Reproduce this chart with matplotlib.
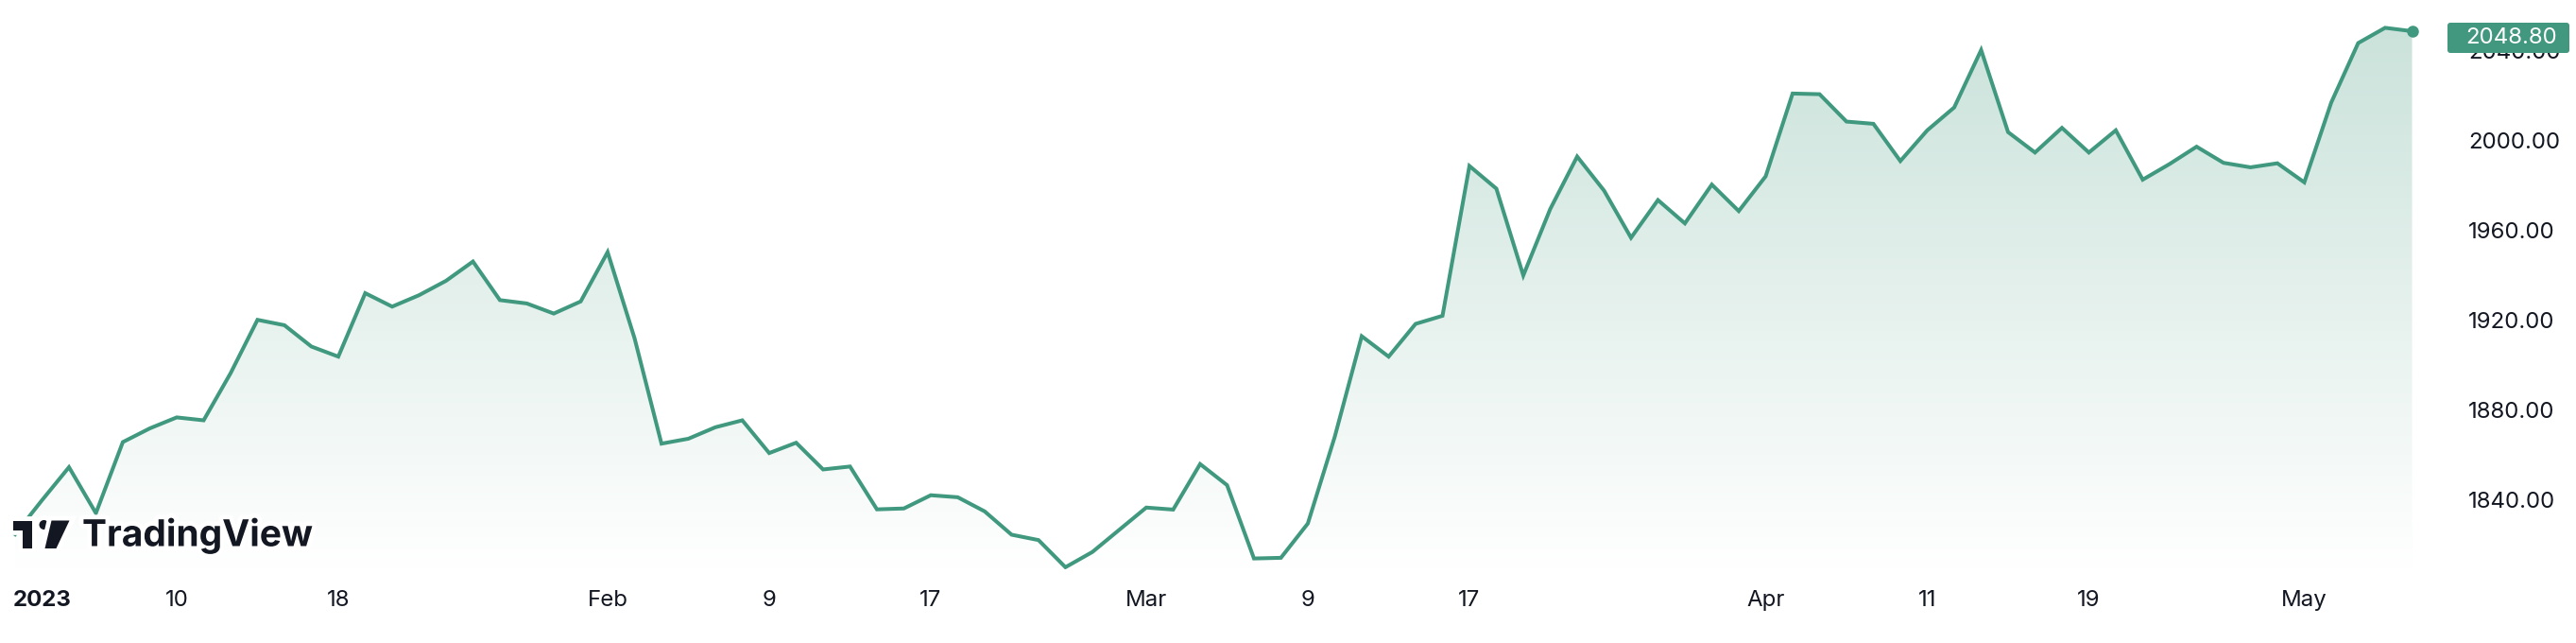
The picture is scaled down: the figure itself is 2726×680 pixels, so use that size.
import matplotlib
matplotlib.use('Agg')
import matplotlib.pyplot as plt
import matplotlib.patheffects as pe
from matplotlib.patches import Polygon, Circle, FancyBboxPatch
import numpy as np

# daily closes, gold spot, Dec 30 2022 .. May 5 2023
dates = ['2022-12-30',
         '2023-01-03', '2023-01-04', '2023-01-05', '2023-01-06', '2023-01-09',
         '2023-01-10', '2023-01-11', '2023-01-12', '2023-01-13', '2023-01-16',
         '2023-01-17', '2023-01-18', '2023-01-19', '2023-01-20', '2023-01-23',
         '2023-01-24', '2023-01-25', '2023-01-26', '2023-01-27', '2023-01-30',
         '2023-01-31', '2023-02-01', '2023-02-02', '2023-02-03', '2023-02-06',
         '2023-02-07', '2023-02-08', '2023-02-09', '2023-02-10', '2023-02-13',
         '2023-02-14', '2023-02-15', '2023-02-16', '2023-02-17', '2023-02-20',
         '2023-02-21', '2023-02-22', '2023-02-23', '2023-02-24', '2023-02-27',
         '2023-02-28', '2023-03-01', '2023-03-02', '2023-03-03', '2023-03-06',
         '2023-03-07', '2023-03-08', '2023-03-09', '2023-03-10', '2023-03-13',
         '2023-03-14', '2023-03-15', '2023-03-16', '2023-03-17', '2023-03-20',
         '2023-03-21', '2023-03-22', '2023-03-23', '2023-03-24', '2023-03-27',
         '2023-03-28', '2023-03-29', '2023-03-30', '2023-03-31', '2023-04-03',
         '2023-04-04', '2023-04-05', '2023-04-06', '2023-04-07', '2023-04-10',
         '2023-04-11', '2023-04-12', '2023-04-13', '2023-04-14', '2023-04-17',
         '2023-04-18', '2023-04-19', '2023-04-20', '2023-04-21', '2023-04-24',
         '2023-04-25', '2023-04-26', '2023-04-27', '2023-04-28', '2023-05-01',
         '2023-05-02', '2023-05-03', '2023-05-04', '2023-05-05']
closes = [1824.5,
          1839.7, 1854.4, 1833.9, 1865.6, 1871.7,
          1876.6, 1875.3, 1896.3, 1920.1, 1917.7,
          1908.2, 1903.7, 1932.0, 1926.0, 1931.1,
          1937.5, 1946.1, 1928.9, 1927.4, 1922.9,
          1928.3, 1950.3, 1911.9, 1864.9, 1867.1,
          1872.2, 1875.3, 1860.7, 1865.3, 1853.4,
          1854.7, 1835.6, 1836.0, 1841.9, 1841.0,
          1834.7, 1824.3, 1821.9, 1809.8, 1816.6,
          1826.5, 1836.4, 1835.5, 1855.8, 1846.4,
          1813.7, 1814.0, 1829.3, 1868.0, 1912.8,
          1903.7, 1918.3, 1921.9, 1988.7, 1978.6,
          1939.9, 1969.5, 1992.9, 1977.7, 1956.7,
          1973.5, 1963.1, 1980.4, 1968.6, 1984.1,
          2021.0, 2020.7, 2008.5, 2007.5, 1990.9,
          2004.6, 2014.8, 2040.4, 2003.8, 1994.7,
          2005.7, 1994.7, 2004.6, 1982.6, 1989.6,
          1997.3, 1990.1, 1988.1, 1989.9, 1981.4,
          2017.0, 2043.5, 2050.3, 2048.8]

tick_dates = ['2023-01-03', '2023-01-10', '2023-01-18', '2023-02-01', '2023-02-09',
              '2023-02-17', '2023-03-01', '2023-03-09', '2023-03-17', '2023-04-03',
              '2023-04-11', '2023-04-19', '2023-05-01']
tick_labels = ['2023', '10', '18', 'Feb', '9', '17', 'Mar', '9', '17', 'Apr', '11', '19', 'May']
price_ticks = [1840, 1880, 1920, 1960, 2000, 2040]
last_price = '2048.80'

LINE = '#40997f'
TXT = '#131722'
plt.rcParams['font.family'] = ['Inter', 'DejaVu Sans']

W, H = 2726, 680
fig = plt.figure(figsize=(W / 100, H / 100), dpi=100)
fig.patch.set_facecolor('white')

# pane: 0..2580 px wide, 0..602 px tall (from top)
ax = fig.add_axes([0, 1 - 602 / H, 2580 / W, 602 / H])
x = np.arange(len(closes))
y = np.array(closes)

ybot, ytop = 1808.9, 2062.7
xl, xr = -16 / 28.5, (2580 - 16) / 28.5

# gradient area under the line
verts = list(zip(x, y)) + [(x[-1], ybot), (x[0], ybot)]
poly = Polygon(verts, closed=True, facecolor='none', edgecolor='none')
ax.add_patch(poly)
top_c = np.array([200, 225, 217]) / 255
bot_c = np.array([255, 255, 255]) / 255
t = np.linspace(0, 1, 256)[:, None]
grad = (top_c * (1 - t) + bot_c * t)[:, None, :]
img = ax.imshow(grad, extent=[xl, xr, ybot, ytop], aspect='auto', origin='upper', zorder=1)
img.set_clip_path(poly)

ax.plot(x, y, color=LINE, lw=2.9, solid_joinstyle='miter', zorder=3)
ax.plot(x[-1], y[-1], 'o', color=LINE, ms=8, zorder=4)

ax.set_xlim(xl, xr)
ax.set_ylim(ybot, ytop)
for s in ax.spines.values():
    s.set_visible(False)

tick_idx = [dates.index(d) for d in tick_dates]
ax.set_xticks(tick_idx)
ax.set_xticklabels(tick_labels)
ax.tick_params(axis='x', length=0, pad=16, labelsize=17.3, labelcolor=TXT)
ax.get_xticklabels()[0].set_fontweight('bold')

ax.yaxis.tick_right()
ax.set_yticks(price_ticks)
ax.set_yticklabels(['%.2f' % v for v in price_ticks])
ax.tick_params(axis='y', length=0, pad=23, labelsize=17.3, labelcolor=TXT)

# overlay in pixel coordinates for logo and price label
ov = fig.add_axes([0, 0, 1, 1], zorder=5)
ov.set_xlim(0, W)
ov.set_ylim(H, 0)
ov.axis('off')
ov.patch.set_alpha(0)

halo = [pe.withStroke(linewidth=7, foreground='white')]
logo_parts = [
    Polygon([(14, 550.5), (33.5, 550.5), (33.5, 580), (23.5, 580), (23.5, 560.5), (14, 560.5)]),
    Circle((46.5, 555), 5),
    Polygon([(54.5, 550.5), (73.5, 550.5), (59.5, 580), (47.5, 580)]),
]
for p in logo_parts:
    p.set_facecolor(TXT)
    p.set_edgecolor('none')
    p.set_path_effects(halo)
    ov.add_patch(p)
ov.text(87, 566, 'TradingView', fontsize=28, fontweight='bold', color=TXT,
        va='center', ha='left', path_effects=halo)

box = FancyBboxPatch((2590, 24), 129, 32, boxstyle='round,pad=0,rounding_size=3',
                     facecolor='#42977f', edgecolor='none')
ov.add_patch(box)
ov.text(2658, 40.5, last_price, color='white', fontsize=17.3, ha='center', va='center')

fig.savefig('out.png', dpi=100, facecolor='white')
